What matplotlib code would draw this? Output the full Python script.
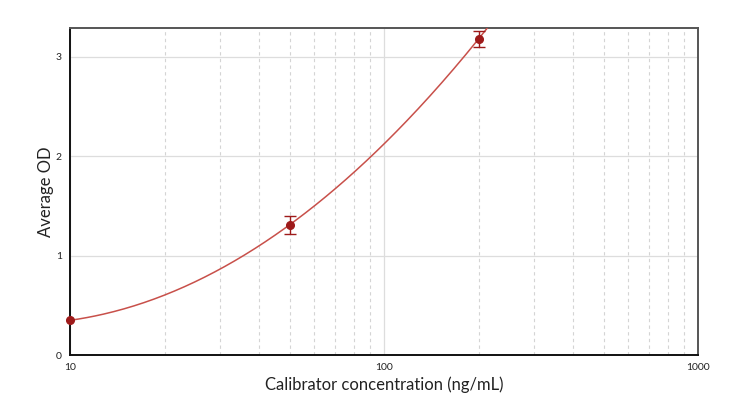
import numpy as np
import matplotlib
matplotlib.use("Agg")
import matplotlib.pyplot as plt
from matplotlib.ticker import FixedLocator, NullFormatter

# calibrator data
conc = [10, 50, 200]
avg_od = [0.35, 1.31, 3.18]
od_err = [0.0, 0.09, 0.08]

x_ticks = [10, 100, 1000]
y_ticks = [0, 1, 2, 3]

plt.rcParams['font.family'] = ['Lato', 'DejaVu Sans']

fig = plt.figure(figsize=(7.53, 3.95), dpi=100)
ax = fig.add_axes([0.093, 0.101, 0.834, 0.828])

# quadratic fit in log concentration
coef = np.polyfit(np.log10(conc), avg_od, 2)
xs = np.logspace(1, np.log10(400), 300)
ax.plot(xs, np.polyval(coef, np.log10(xs)), color='#c8504a', lw=1.1, zorder=3)

# points, with error bars only where there is an error
ax.plot(conc, avg_od, 'o', color='#9e1a1a', ms=5.5, zorder=4, clip_on=False)
has_err = [i for i, e in enumerate(od_err) if e > 0]
ax.errorbar([conc[i] for i in has_err], [avg_od[i] for i in has_err],
            yerr=[od_err[i] for i in has_err], fmt='none', ecolor='#9e1a1a',
            elinewidth=1, capsize=4, capthick=1, zorder=4, clip_on=False)

ax.set_xscale('log')
ax.set_xlim(10, 1000)
ax.set_ylim(0, 3.29)

ax.xaxis.set_major_locator(FixedLocator(x_ticks))
ax.set_xticklabels([str(t) for t in x_ticks])
minor = [m * d for d in (10, 100) for m in range(2, 10)]
ax.xaxis.set_minor_locator(FixedLocator(minor))
ax.xaxis.set_minor_formatter(NullFormatter())
ax.set_yticks(y_ticks)

ax.grid(which='major', axis='both', color='#dddddd', lw=0.9, zorder=0)
ax.grid(which='minor', axis='x', color='#d4d4d4', lw=0.8, ls=(0, (3, 3)), zorder=0)
ax.set_axisbelow(True)

ax.tick_params(axis='both', which='both', length=0, labelsize=7.5, colors='#222222')
ax.tick_params(axis='x', pad=6)
ax.tick_params(axis='y', pad=6)

for side in ('left', 'bottom'):
    ax.spines[side].set_color('#111111')
    ax.spines[side].set_linewidth(1.4)
for side in ('top', 'right'):
    ax.spines[side].set_color('#555555')
    ax.spines[side].set_linewidth(1.4)

ax.set_xlabel('Calibrator concentration (ng/mL)', fontsize=12, color='#222222', labelpad=3)
ax.set_ylabel('Average OD', fontsize=12, color='#222222', labelpad=1)

fig.savefig('out.png', dpi=100)
